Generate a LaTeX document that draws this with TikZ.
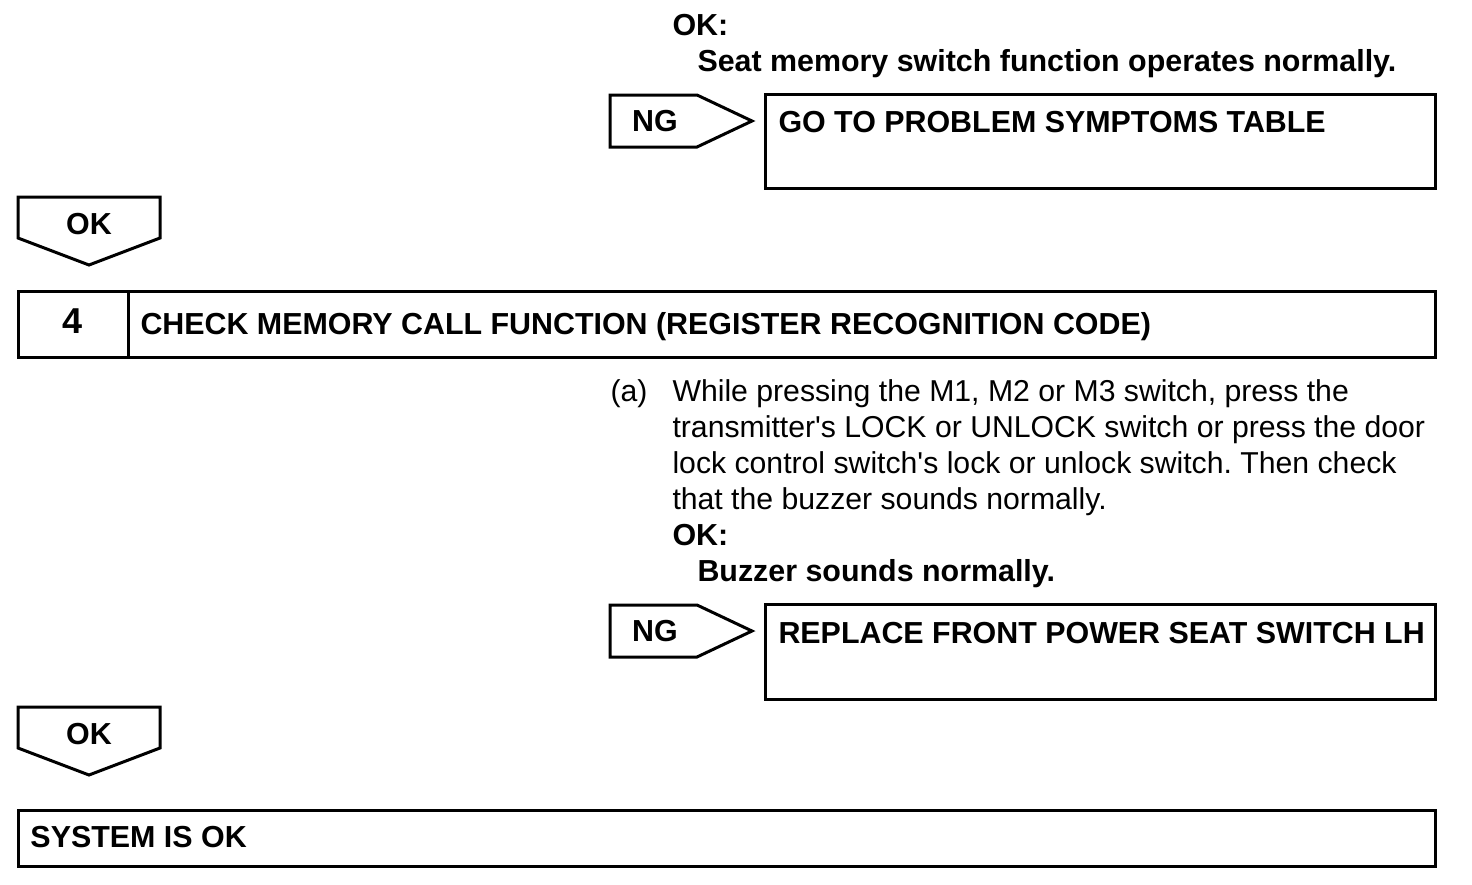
\documentclass[tikz,border=0pt]{standalone}
\usepackage{fontspec}
\setmainfont{Liberation Sans}
\usetikzlibrary{calc}
\frenchspacing

\begin{document}
\begin{tikzpicture}[x=0.5pt, y=-0.5pt, line width=1.5pt,
    txt/.style = {anchor=base west, inner sep=0pt, font=\fontsize{15.1}{18}\selectfont},
    bold/.style = {txt, font=\fontsize{15.2}{18}\selectfont\bfseries},
    tag/.style = {inner sep=0pt, font=\fontsize{15.2}{18}\selectfont\bfseries}]

    \useasboundingbox (0,0) rectangle (1472,884);

    % result of step 3
    \node [bold] (ok1) at (671,35) {OK:};
    \node [bold] (seat1) at (696,71) {Seat memory switch function operates normally.};

    \draw (610,95) -- (697,95) -- (752,121) -- (697,147) -- (610,147) -- cycle;
    \node [tag] (ng1) at (655,121) {NG};
    \draw (765,94) rectangle (1435,188);
    \node [bold] (box1) at (777,132) {GO TO PROBLEM SYMPTOMS TABLE};

    \draw (18,197) -- (160,197) -- (160,238) -- (89,265) -- (18,238) -- cycle;
    \node [tag] (go1) at (89,224) {OK};

    % step 4
    \draw (18,291) rectangle (1435,357);
    \draw (128,291) -- (128,357);
    \node [tag, font=\fontsize{18}{20}\selectfont\bfseries, anchor=base] (num4) at (72.5,333.5) {4};
    \node [bold] (step4) at (139,334) {CHECK MEMORY CALL FUNCTION (REGISTER RECOGNITION CODE)};

    \node [txt] (a) at (609,401) {(a)};
    \node [txt] (line1) at (671,401) {While pressing the M1, M2 or M3 switch, press the};
    \node [txt] (line2) at (671,437) {transmitter\textquotesingle s LOCK or UNLOCK switch or press the door};
    \node [txt] (line3) at (671,473) {lock control switch\textquotesingle s lock or unlock switch. Then check};
    \node [txt] (line4) at (671,509) {that the buzzer sounds normally.};
    \node [bold] (ok2) at (671,545) {OK:};
    \node [bold] (buzz) at (696,581) {Buzzer sounds normally.};

    \draw (610,605) -- (697,605) -- (752,631) -- (697,657) -- (610,657) -- cycle;
    \node [tag] (ng2) at (655,631) {NG};
    \draw (765,604) rectangle (1435,699);
    \node [bold] (box2) at (777,643) {REPLACE FRONT POWER SEAT SWITCH LH};

    \draw (18,707) -- (160,707) -- (160,748) -- (89,775) -- (18,748) -- cycle;
    \node [tag] (go2) at (89,734) {OK};

    % end
    \draw (18,810) rectangle (1435,866);
    \node [bold] (sys) at (29,847) {SYSTEM IS OK};

\end{tikzpicture}
\end{document}
